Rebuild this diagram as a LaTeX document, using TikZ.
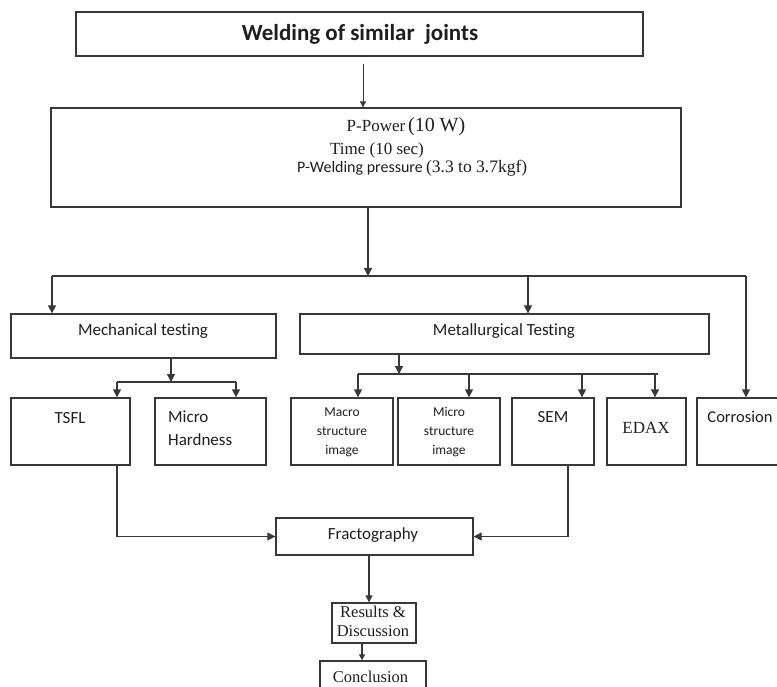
\documentclass[tikz,border=0pt]{standalone}
\usepackage{fontspec}
\newfontfamily\sansface{Carlito}[Ligatures={NoCommon,NoContextual}]
\newfontfamily\serifface{Liberation Serif}
\usetikzlibrary{arrows.meta}
\definecolor{linegray}{HTML}{383838}
\definecolor{textdark}{HTML}{1E1E1E}

\begin{document}
\begin{tikzpicture}[x=1pt,y=-1pt,
  box/.style={draw=linegray,line width=1.3pt,inner sep=0pt},
  lbl/.style={inner sep=0pt,text=textdark,font=\sansface\fontsize{17}{20}\selectfont},
  slbl/.style={inner sep=0pt,text=textdark,font=\serifface\fontsize{17}{19}\selectfont},
  conn/.style={draw=linegray,line width=1.3pt},
  arr/.style={conn,-{Triangle[length=8pt,width=8pt]}},
  thinarr/.style={draw=linegray,line width=0.9pt,-{Triangle[length=6pt,width=6pt]}}]

\useasboundingbox (0,0) rectangle (777,687);

% ---- top of the flow ----
\node[box,minimum width=567pt,minimum height=44pt] (top) at (359.5,34) {};
\node[lbl,font=\sansface\bfseries\fontsize{23}{27}\selectfont] (toptxt) at (360,34)
  {Welding of similar\ \ joints};

\node[box,minimum width=630pt,minimum height=99pt] (params) at (366,157.5) {};
\node[slbl] (power) at (406,127)
  {P-Power\,{\fontsize{20}{24}\selectfont(10 W)}};
\node[slbl] (time) at (377,150) {Time (10 sec)};
\node[inner sep=0pt,anchor=west,text=textdark] (press) at (297,168)
  {{\sansface\fontsize{16}{19}\selectfont P-Welding pressure}\ {\serifface\fontsize{17.5}{20}\selectfont(3.3 to 3.7kgf)}};

\coordinate (c0) at (363,0);
\draw[thinarr,shorten <=7pt] (top.south -| c0) -- (params.north -| c0);

% ---- main split ----
\coordinate (bus)  at (368,276);
\coordinate (busL) at (52,276);
\coordinate (busM) at (528,276);
\coordinate (busR) at (746,276);
\draw[arr] (params.south -| bus) -- (bus);
\draw[conn] (busL) -- (busR);

\node[box,minimum width=265pt,minimum height=44pt] (mech) at (143.5,336) {};
\node[lbl] (mechtxt) at (143,331) {Mechanical testing};
\node[box,minimum width=409pt,minimum height=40pt] (metal) at (504.5,334) {};
\node[lbl] (metaltxt) at (504,331) {Metallurgical Testing};

\draw[arr] (busL) -- (busL |- mech.north);
\draw[arr] (busM) -- (busM |- metal.north);

% ---- test boxes ----
\node[box,minimum width=119pt,minimum height=67pt] (tsfl)  at (70.5,431.5) {};
\node[lbl] (tsfltxt) at (70,418) {TSFL};
\node[box,minimum width=111pt,minimum height=67pt] (hard)  at (210.5,431.5) {};
\node[lbl,anchor=west,align=left,font=\sansface\fontsize{17}{23}\selectfont] (hardtxt) at (168,428) {Micro\\Hardness};
\node[box,minimum width=102pt,minimum height=67pt] (macro) at (342,431.5) {};
\node[lbl,align=center,font=\sansface\fontsize{13.5}{19}\selectfont] (macrotxt) at (342,432) {Macro\\structure\\image};
\node[box,minimum width=102pt,minimum height=67pt] (micro) at (449,431.5) {};
\node[lbl,align=center,font=\sansface\fontsize{13.5}{19}\selectfont] (microtxt) at (449,432) {Micro\\structure\\image};
\node[box,minimum width=82pt,minimum height=67pt]  (sem)   at (553,431.5) {};
\node[lbl] (semtxt) at (553,417) {SEM};
\node[box,minimum width=79pt,minimum height=67pt]  (edax)  at (646.5,431.5) {};
\node[slbl] (edaxtxt) at (646,428) {EDAX};
\node[box,minimum width=103pt,minimum height=67pt] (corr)  at (748.5,431.5) {};
\node[lbl,font=\sansface\fontsize{16.5}{20}\selectfont] (corrtxt) at (740,417) {Corrosion};

\draw[arr] (busR) -- (busR |- corr.north);

% mechanical branch
\coordinate (mj)  at (171,382);
\coordinate (mjL) at (117,382);
\coordinate (mjR) at (236,382);
\draw[arr] (mech.south -| mj) -- (mj);
\draw[conn] (mjL) -- (mjR);
\draw[arr] (mjL) -- (mjL |- tsfl.north);
\draw[arr] (mjR) -- (mjR |- hard.north);

% metallurgical branch
\coordinate (tj)  at (399,374);
\coordinate (tj1) at (358,374);
\coordinate (tj2) at (469,374);
\coordinate (tj3) at (582,374);
\coordinate (tj4) at (655,374);
\coordinate (tjR) at (658,374);
\draw[arr] (metal.south -| tj) -- (tj);
\draw[conn] (tj1) -- (tjR);
\draw[arr] (tj1) -- (tj1 |- macro.north);
\draw[arr] (tj2) -- (tj2 |- micro.north);
\draw[arr] (tj3) -- (tj3 |- sem.north);
\draw[arr] (tj4) -- (tj4 |- edax.north);

% ---- fractography and conclusions ----
\node[box,minimum width=197pt,minimum height=37pt] (frac) at (374.5,536.5) {};
\node[lbl] (fractxt) at (373,535) {Fractography};

\coordinate (tx) at (117,0);
\coordinate (sx) at (568,0);
\draw[arr] (tsfl.south -| tx) |- (frac.west);
\draw[arr] (sem.south -| sx) |- (frac.east);

\node[box,minimum width=84pt,minimum height=40pt] (res) at (374,623) {};
\node[slbl,align=center,font=\serifface\fontsize{16.5}{19}\selectfont] (restxt) at (373,621.5) {Results \&\\Discussion};
\node[box,minimum width=106pt,minimum height=49pt] (concl) at (373,685.5) {};
\node[slbl,font=\serifface\fontsize{16.5}{19}\selectfont] (concltxt) at (370.5,677) {Conclusion};

\coordinate (fx) at (369,0);
\coordinate (rx) at (362,0);
\draw[arr,-{Triangle[length=7pt,width=7pt]}] (frac.south -| fx) -- (res.north -| fx);
\draw[thinarr,line width=1.1pt] (res.south -| rx) -- (concl.north -| rx);
\end{tikzpicture}
\end{document}
